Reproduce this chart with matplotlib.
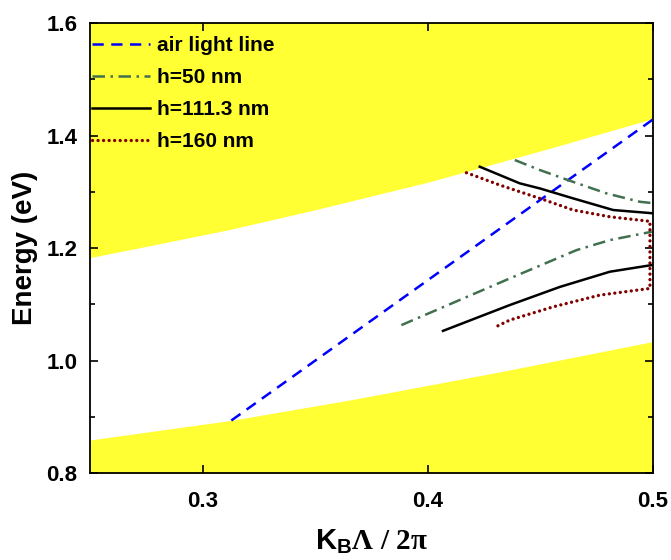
import matplotlib
matplotlib.use('Agg')
import matplotlib.pyplot as plt
import numpy as np

plt.rcParams['font.family'] = ['Liberation Sans', 'DejaVu Sans']
plt.rcParams['font.weight'] = 'bold'
plt.rcParams['mathtext.fontset'] = 'custom'
plt.rcParams['mathtext.rm'] = 'Liberation Serif'
plt.rcParams['mathtext.it'] = 'Liberation Serif:italic'
plt.rcParams['mathtext.bf'] = 'Liberation Sans:bold'

# light-cone bands (yellow)
band_up_k = [0.25, 0.28, 0.312, 0.35, 0.401, 0.454, 0.5]
band_up_e = [1.183, 1.207, 1.233, 1.268, 1.318, 1.377, 1.430]
band_lo_k = [0.25, 0.313, 0.3653, 0.432, 0.5]
band_lo_e = [0.859, 0.894, 0.930, 0.980, 1.034]

# air light line
air_k = [0.3128, 0.5]
air_slope = 2.857

# h = 50 nm
h50_up_k = [0.4387, 0.4498, 0.4631, 0.4794, 0.4942, 0.4995]
h50_up_e = [1.3564, 1.3387, 1.3197, 1.2972, 1.2823, 1.2800]
h50_lo_k = [0.3883, 0.4364, 0.4661, 0.4809, 0.4995]
h50_lo_e = [1.0631, 1.1460, 1.1964, 1.2142, 1.2290]

# h = 111.3 nm
h111_up_k = [0.4231, 0.4409, 0.4498, 0.4646, 0.4824, 0.4995]
h111_up_e = [1.3446, 1.3150, 1.3060, 1.2883, 1.2676, 1.2620]
h111_lo_k = [0.4068, 0.4364, 0.4587, 0.4809, 0.4995]
h111_lo_e = [1.0529, 1.0987, 1.1310, 1.1580, 1.1698]

# h = 160 nm
h160_up_k = [0.4172, 0.4320, 0.4520, 0.4646, 0.4809, 0.4987]
h160_up_e = [1.3339, 1.3120, 1.2853, 1.2676, 1.2556, 1.2475]
h160_lo_k = [0.4987, 0.4764, 0.4557, 0.4364, 0.4302]
h160_lo_e = [1.1283, 1.1164, 1.0956, 1.0720, 1.0600]

fig = plt.figure(figsize=(6.71, 5.6), dpi=100)
ax = fig.add_axes([0.134, 0.155, 0.839, 0.804])

yellow = '#ffff33'
ax.fill_between(band_up_k, band_up_e, 1.7, color=yellow, lw=0, zorder=1)
ax.fill_between(band_lo_k, 0.7, band_lo_e, color=yellow, lw=0, zorder=1)

air_e = [air_slope * k for k in air_k]
ax.plot(air_k, air_e, color='#0000ff', lw=1.8, ls=(0, (4.5, 3)),
        label='air light line', zorder=3)

green = '#41704f'
ax.plot(h50_up_k, h50_up_e, color=green, lw=1.8, ls=(0, (5, 2.2, 1, 2.2)),
        label='h=50 nm', zorder=3)
ax.plot(h50_lo_k, h50_lo_e, color=green, lw=1.8, ls=(0, (5, 2.2, 1, 2.2)), zorder=3)

ax.plot(h111_up_k, h111_up_e, color='black', lw=1.8, label='h=111.3 nm', zorder=3)
ax.plot(h111_lo_k, h111_lo_e, color='black', lw=1.8, zorder=3)

red = '#800000'
ax.plot(h160_up_k + h160_lo_k, h160_up_e + h160_lo_e, color=red, lw=2.4,
        ls=(0, (0.01, 1.65)), dash_capstyle='round', label='h=160 nm', zorder=3)

ax.set_xlim(0.25, 0.5)
ax.set_ylim(0.8, 1.6)
ax.set_xticks([0.3, 0.4, 0.5])
ax.set_yticks([0.8, 1.0, 1.2, 1.4, 1.6])
ax.set_yticks(np.arange(0.9, 1.6, 0.2), minor=True)
ax.tick_params(which='both', direction='in', top=True, right=True,
               labelsize=16, width=1.2)
ax.tick_params(which='major', length=6)
ax.tick_params(axis='x', which='major', pad=13)
ax.tick_params(axis='y', which='major', pad=9)
ax.tick_params(which='minor', length=3.5)
for s in ax.spines.values():
    s.set_linewidth(1.3)

ax.set_ylabel('Energy (eV)', fontsize=20, fontweight='bold', labelpad=6)
ax.set_xlabel(r'$\mathbf{K}_{\mathbf{B}}\mathrm{\Lambda\ /\ 2\pi}$', fontsize=21,
              labelpad=11)

leg = ax.legend(loc='upper left', bbox_to_anchor=(0.0, 0.975), frameon=False,
                prop={'size': 15, 'weight': 'bold'}, handlelength=2.8,
                handletextpad=0.3, labelspacing=0.62, borderaxespad=0.0,
                borderpad=0.1)

fig.savefig('out.png', dpi=100)
